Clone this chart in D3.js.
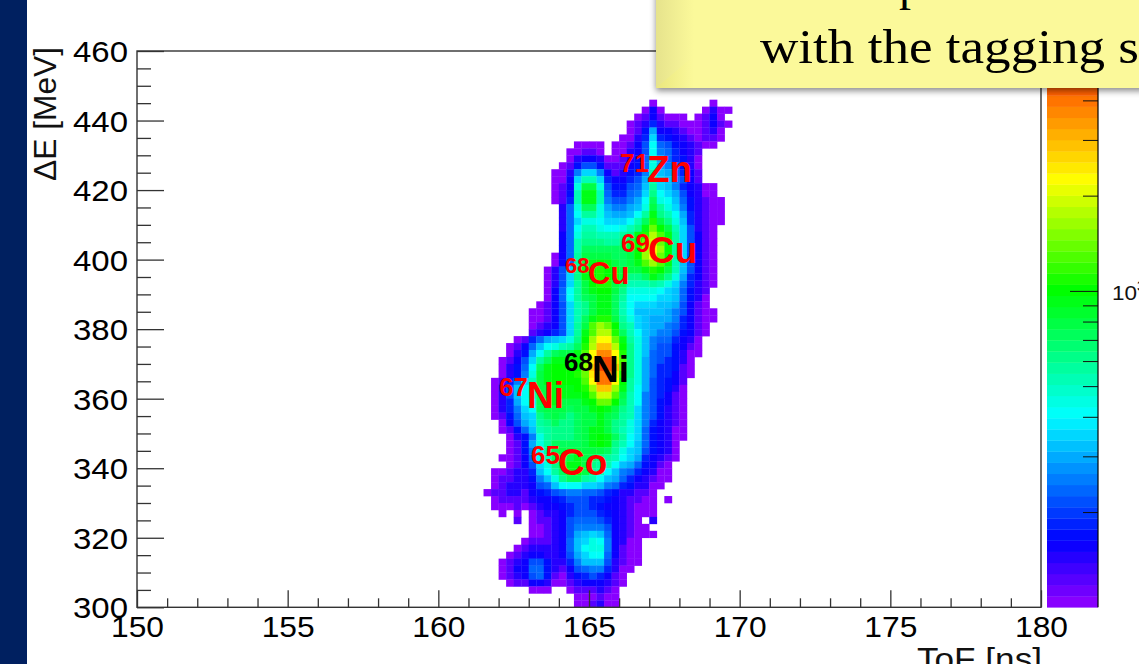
<!DOCTYPE html>
<html>
<head>
<meta charset="utf-8">
<title>ToF vs dE</title>
<script src="https://cdn.jsdelivr.net/npm/d3@7"></script>
<style>
  html, body { margin: 0; padding: 0; background: #fff; overflow: hidden; }
  svg { display: block; }
  text { font-family: "Liberation Sans", Arial, sans-serif; }
</style>
</head>
<body>
<script>
// Axis tick values
var xMajor = [150, 155, 160, 165, 170, 175, 180];
var yMajor = [300, 320, 340, 360, 380, 400, 420, 440, 460];
var zMinor = [200, 300, 400, 500, 600, 700, 800, 900, 2000, 3000, 4000, 5000];
var zMajor = [1000];

// Palette of the z axis, bottom to top
var paletteStops = [0, 0.12, 0.345, 0.57, 0.768, 0.93, 1];
var paletteColors = ["#9400ff", "#0000ff", "#00ffff", "#00ff00", "#ffff00", "#ff6000", "#e00000"];

// Histogram: 0.25 ns x 2 MeV bins, top row is 444-446 MeV.
// rowStart = first filled ToF bin of the row, rowLevels = colour level of each
// following bin in base 36 (0 violet ... 35 red), "." = empty bin
var tofStart = 161.5, tofBin = 0.25, deTop = 444, deBin = 2;
var rowStart = [22, 21, 20, 19, 19, 18, 12, 11, 11, 10, 9, 9, 9, 9, 9, 10, 10, 10, 10, 10, 10, 10,
  9, 9, 8, 8, 8, 8, 8, 7, 6, 6, 6, 6, 4, 3, 3, 2, 2, 2, 1, 1, 1, 1, 1, 1, 2, 2, 3, 3, 3, 2, 3, 1, 1, 1,
  0, 1, 1, 2, 4, 6, 6, 5, 4, 3, 2, 2, 2, 3, 6, 12, 12];
var rowLevels = [
  "0.......0",
  "030.....0200",
  "0131000.0130",
  "01252110001310",
  "0149332100120",
  "0025b543210110",
  "0000.00136c76432100",
  "00110.00236c875321",
  "02332001247d975420",
  "014664111347d986420",
  "0028bb8312458ea97531",
  "003beeb533569eba8631",
  "013diid64467afba853200",
  "014ejje75578bgcb963200",
  "015ejje86689chdca742100",
  "27dhhd9889adifdb842100",
  "27cffda99acfjgec952100",
  "27bddcbbbcehligda52100",
  "27ceedccdegjnkieb6210",
  "37dffeeefgjlpmjfb6310",
  "37egggffgiknqnkfb6310",
  "37ehhhhhhikorokfb6310",
  "037fiiiihhikornkfb6310",
  "037fijkjihijmomjea6310",
  "026bgjklkjiiijlkiea6310",
  "026bgjklkjigghjigd95310",
  "026bfiklliheeefedb85210",
  "037cfijkkigddddcba7421",
  "037cfhijjhfccccbba7420",
  "0136begijjhecbbbaa96310",
  "00136begijjhecaaaa9863100",
  "00136behjllifdba999853100",
  "01236bfimonkgeba99875310",
  "12356bfjmpplheca98864310",
  "01579abdgkorrnjfda8775320",
  "0137acdefhlpttpkgda8664310",
  "0249cfhiijmrvvrlgda7664200",
  "0136bfhjjkknsxxsmgd9765420",
  "0247chjkkkkotxxtmgd9755410",
  "0248dijkkklnswwslgd9755310",
  "0158beijkkkkmrwwrkfd965431",
  "026acfiijjjklottojfc965420",
  "026acehijjjjkmqqmiec865310",
  "0259cdhijiiijknnkhec864310",
  "0258bchiiihiijkjigeb864210",
  "0147abghihghiijihfeb864210",
  "0369bfghgghiijigfdb853210",
  "0147aefggghijjigedb743200",
  "0248dfggghijkjhfcb743200",
  "0149dfhhhhijkjgeca74320",
  "0148cfhiiiiiihfdba64320",
  "00137cehiijihgfecb953210",
  "0136bdgijjigfeca974310",
  "001225acfhjjifeca8753200",
  "0112248adghhfeca97532100",
  "01222367acccbba87542200",
  "01122134567887765422110",
  "0111123345666554321100.0",
  "0001012334566543321000",
  "0.0.01223566654321000",
  "1.011236777653210.2",
  "0012368888632100",
  "0012369aba7321000",
  "0111237abdc83200",
  "01222237acdd83100",
  "0123322369bcc73100",
  "01236642258aaa62100",
  "013377421367885200",
  "01236741024565310",
  "0113320012333210",
  "000..0111210",
  "000100",
  "001200"
];

var width = 1139, height = 664;

var svg = d3.select("body").append("svg")
  .attr("width", width)
  .attr("height", height);

var defs = svg.append("defs");
var shadow = defs.append("filter").attr("id", "boxShadow")
  .attr("x", "-5%").attr("y", "-20%").attr("width", "110%").attr("height", "150%");
shadow.append("feDropShadow")
  .attr("dx", 0).attr("dy", 3).attr("stdDeviation", 3)
  .attr("flood-color", "#000").attr("flood-opacity", 0.45);
var bevel = defs.append("linearGradient").attr("id", "bevelLeft");
bevel.append("stop").attr("offset", "0%").attr("stop-color", "#e6e38c");
bevel.append("stop").attr("offset", "100%").attr("stop-color", "#fbf99a");
var corner = defs.append("linearGradient").attr("id", "bevelCorner");
corner.append("stop").attr("offset", "0%").attr("stop-color", "#eae77e");
corner.append("stop").attr("offset", "100%").attr("stop-color", "#fbf99a");
defs.append("filter").attr("id", "soften")
  .attr("x", "-5%").attr("y", "-5%").attr("width", "110%").attr("height", "110%")
  .append("feGaussianBlur").attr("stdDeviation", 0.7);

// slide strip on the left
svg.append("rect").attr("x", 0).attr("y", 0).attr("width", 27).attr("height", height).attr("fill", "#002060");

var x = d3.scaleLinear().domain([150, 180]).range([137, 1041]);
var y = d3.scaleLinear().domain([300, 460]).range([607.3, 51]);
var z = d3.scaleLog().domain([100, 5730]).range([607.3, 51]);

var palette = d3.scaleLinear().domain(paletteStops).range(paletteColors);
var levelToT = d3.scaleLinear()
  .domain([0, 1, 2, 3, 4, 12, 20, 27, 35])
  .range([0, 0.05, 0.08, 0.105, 0.125, 0.345, 0.57, 0.768, 1]);
var nBands = 50;
function bandColor(t) {
  var b = Math.min(nBands - 1, Math.floor(t * nBands));
  return palette((b + 0.5) / nBands);
}

// build the cells out of the rows
var cells = [];
rowLevels.forEach(function (row, k) {
  row.split("").forEach(function (ch, i) {
    if (ch === ".") return;
    cells.push({
      tof: tofStart + tofBin * (rowStart[k] + i),
      de: deTop - deBin * k,
      level: parseInt(ch, 36)
    });
  });
});

svg.append("g").attr("filter", "url(#soften)").selectAll("rect")
  .data(cells)
  .enter()
  .append("rect")
  .attr("x", function (d) { return x(d.tof); })
  .attr("y", function (d) { return y(d.de + deBin); })
  .attr("width", x(tofBin) - x(0) + 0.3)
  .attr("height", y(0) - y(deBin) + 0.3)
  .attr("fill", function (d) { return bandColor(levelToT(d.level)); });

// frame
svg.append("rect")
  .attr("x", 137).attr("y", 51).attr("width", 904).attr("height", 556.3)
  .attr("fill", "none").attr("stroke", "#333").attr("stroke-width", 1.4);

function minorValues(scale, step, skip) {
  return d3.range(scale.domain()[0], scale.domain()[1] + 0.01, step).filter(function (v) {
    return skip.indexOf(v) < 0;
  });
}

function styleAxis(g) {
  g.select(".domain").remove();
  g.selectAll("line").attr("stroke", "#333").attr("stroke-width", 1.3);
  g.selectAll("text").attr("fill", "#000").style("font-family", "Liberation Sans");
}

// x axis
svg.append("g").attr("transform", "translate(0,607.3)")
  .call(d3.axisBottom(x).tickValues(minorValues(x, 1, xMajor)).tickSize(-9).tickFormat(""))
  .call(styleAxis);
svg.append("g").attr("transform", "translate(0,607.3)")
  .call(d3.axisBottom(x).tickValues(xMajor).tickSizeInner(-17).tickSizeOuter(0).tickPadding(9))
  .call(styleAxis)
  .call(function (g) {
    g.selectAll("text").attr("dy", 0).attr("y", 30)
      .style("font-size", "29.5px").attr("textLength", 53).attr("lengthAdjust", "spacingAndGlyphs");
  });

// y axis
svg.append("g").attr("transform", "translate(137,0)")
  .call(d3.axisLeft(y).tickValues(minorValues(y, 5, yMajor)).tickSize(-14).tickFormat(""))
  .call(styleAxis);
svg.append("g").attr("transform", "translate(137,0)")
  .call(d3.axisLeft(y).tickValues(yMajor).tickSizeInner(-27).tickSizeOuter(0))
  .call(styleAxis)
  .call(function (g) {
    g.selectAll("text").attr("x", -9).attr("dy", "0.36em")
      .style("font-size", "29.5px").attr("textLength", 55).attr("lengthAdjust", "spacingAndGlyphs");
  });

// titles
svg.append("text")
  .attr("transform", "translate(56,181) rotate(-90)")
  .attr("textLength", 134).attr("lengthAdjust", "spacingAndGlyphs")
  .style("font-size", "31px").attr("fill", "#111")
  .text("ΔE [MeV]");
svg.append("text")
  .attr("x", 917).attr("y", 670)
  .attr("textLength", 125).attr("lengthAdjust", "spacingAndGlyphs")
  .style("font-size", "31px").attr("fill", "#111")
  .text("ToF [ns]");

// colour bar
var bands = d3.range(nBands);
svg.append("g").selectAll("rect")
  .data(bands)
  .enter()
  .append("rect")
  .attr("x", 1047)
  .attr("width", 51)
  .attr("y", function (b) { return 51 + (nBands - 1 - b) * (556.3 / nBands); })
  .attr("height", 556.3 / nBands + 0.3)
  .attr("fill", function (b) { return palette((b + 0.5) / nBands); });

svg.append("g").attr("transform", "translate(1098,0)")
  .call(d3.axisLeft(z).tickValues(zMinor).tickSize(15).tickFormat(""))
  .call(function (g) {
    g.select(".domain").remove();
    g.selectAll("line").attr("stroke", "#111").attr("stroke-width", 1);
  });
svg.append("g").attr("transform", "translate(1098,0)")
  .call(d3.axisLeft(z).tickValues(zMajor).tickSize(28).tickFormat(""))
  .call(function (g) {
    g.select(".domain").remove();
    g.selectAll("line").attr("stroke", "#111").attr("stroke-width", 1);
  });
svg.append("line")
  .attr("x1", 1098).attr("x2", 1098).attr("y1", 51).attr("y2", 607.3)
  .attr("stroke", "#000").attr("stroke-width", 1.2);

svg.append("text").attr("x", 1112).attr("y", 300)
  .attr("textLength", 25).attr("lengthAdjust", "spacingAndGlyphs")
  .style("font-size", "20px").attr("fill", "#111").text("10");
svg.append("text").attr("x", 1137).attr("y", 291)
  .style("font-size", "14px").attr("fill", "#111").text("3");

// isotope labels
function isotope(mass, name, mx, my, nx, ny, massSize, nameSize, color) {
  var g = svg.append("g").attr("fill", color).style("font-weight", "bold");
  g.append("text").attr("x", mx).attr("y", my).style("font-size", massSize + "px").text(mass);
  g.append("text").attr("x", nx).attr("y", ny).style("font-size", nameSize + "px").text(name);
}
isotope("71", "Zn", 620, 172, 647, 182, 26, 37, "#ff0000");
isotope("69", "Cu", 621, 252, 648, 263, 26, 37, "#ff0000");
isotope("68", "Cu", 565, 273, 588, 284, 22, 31, "#ff0000");
isotope("68", "Ni", 564, 371, 592, 382, 26, 37, "#000000");
isotope("67", "Ni", 499, 396, 527, 408, 26, 37, "#ff0000");
isotope("65", "Co", 531, 464, 558, 475, 26, 37, "#ff0000");

// note box over the top right
var box = svg.append("g");
box.append("rect")
  .attr("x", 656).attr("y", -20).attr("width", 520).attr("height", 108)
  .attr("fill", "#fbf99a").attr("filter", "url(#boxShadow)");
box.append("rect")
  .attr("x", 656).attr("y", -20).attr("width", 38).attr("height", 108)
  .attr("fill", "url(#bevelLeft)");
box.append("path")
  .attr("d", "M656,88 L694,56 L694,88 Z")
  .attr("fill", "url(#bevelCorner)");
box.append("text").attr("x", 899).attr("y", 0)
  .style("font-family", "Liberation Serif").style("font-size", "48px").attr("fill", "#000")
  .text("p");
box.append("text").attr("x", 760).attr("y", 63)
  .attr("textLength", 379).attr("lengthAdjust", "spacingAndGlyphs")
  .style("font-family", "Liberation Serif").style("font-size", "48px").attr("fill", "#000")
  .text("with the tagging s");
</script>
</body>
</html>
